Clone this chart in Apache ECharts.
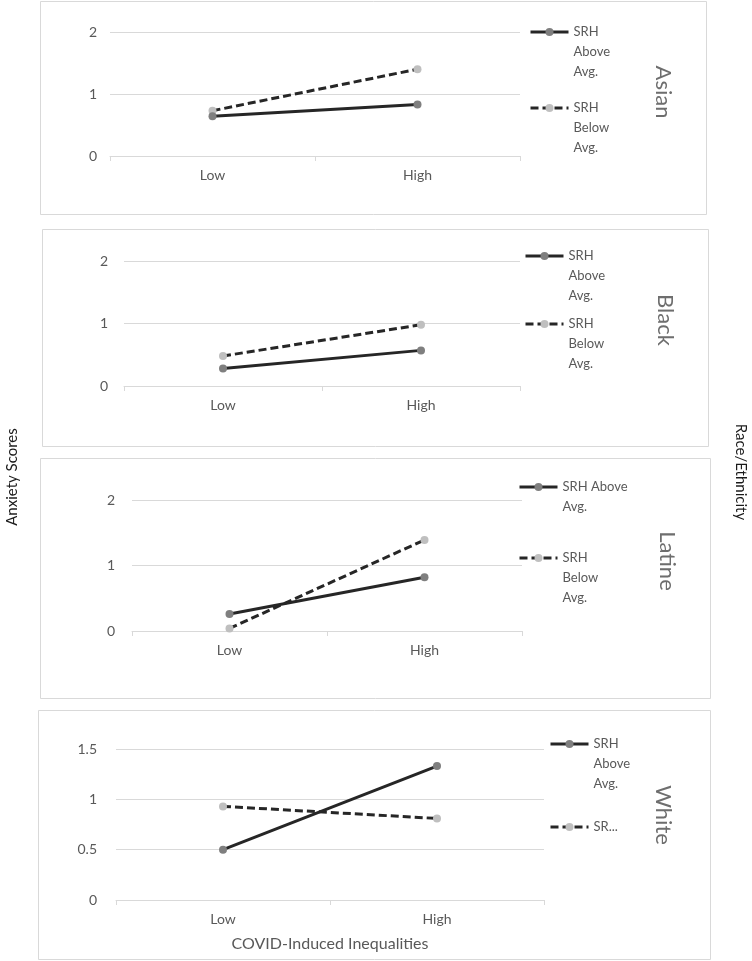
<!DOCTYPE html>
<html>
<head>
<meta charset="utf-8">
<script src="https://cdn.jsdelivr.net/npm/echarts@6/dist/echarts.min.js"></script>
<style>
  html, body { margin: 0; padding: 0; background: #ffffff; }
  #chart { width: 752px; height: 961px; }
</style>
</head>
<body>
<div id="chart"></div>
<script>
// ---- data ----
const categories = ['Low', 'High'];
const groups = ['Asian', 'Black', 'Latine', 'White'];
const seriesNames = ['SRH Above Avg.', 'SRH Below Avg.'];
const asianAbove = [0.64, 0.83];
const asianBelow = [0.73, 1.40];
const blackAbove = [0.28, 0.57];
const blackBelow = [0.48, 0.98];
const latineAbove = [0.26, 0.82];
const latineBelow = [0.04, 1.39];
const whiteAbove = [0.50, 1.33];
const whiteBelow = [0.93, 0.81];
const yMax = [2, 2, 2, 1.5];
const yInterval = [1, 1, 1, 0.5];
const xAxisTitle = 'COVID-Induced Inequalities';
const yAxisTitle = 'Anxiety Scores';
const groupTitle = 'Race/Ethnicity';

// ---- layout (style only) ----
const FONT = 'Lato, "Open Sans", sans-serif';
const panels = [
  { box: [40, 1, 666, 213], grid: { left: 110, top: 32, width: 410, height: 124 }, labelMargin: 13, label: [663, 92],
    legend: [ { left: 529, icon: 32, text: 'SRH\nAbove\nAvg.' }, { left: 529, icon: 108, text: 'SRH\nBelow\nAvg.' } ] },
  { box: [42, 229, 666, 217], grid: { left: 124, top: 261, width: 396, height: 125 }, labelMargin: 16, label: [665, 320],
    legend: [ { left: 524, icon: 256, text: 'SRH\nAbove\nAvg.' }, { left: 524, icon: 324, text: 'SRH\nBelow\nAvg.' } ] },
  { box: [40, 458, 670, 240], grid: { left: 132, top: 500, width: 390, height: 131 }, labelMargin: 17, label: [667, 561],
    legend: [ { left: 518, icon: 487, text: 'SRH Above\nAvg.' }, { left: 518, icon: 558, text: 'SRH\nBelow\nAvg.' } ] },
  { box: [38, 710, 672, 249], grid: { left: 116, top: 749, width: 428, height: 151 }, labelMargin: 19, label: [663, 815],
    legend: [ { left: 549, icon: 744, text: 'SRH\nAbove\nAvg.' }, { left: 549, icon: 827, text: 'SR...' } ] }
];
const dataAbove = [asianAbove, blackAbove, latineAbove, whiteAbove];
const dataBelow = [asianBelow, blackBelow, latineBelow, whiteBelow];

const LH = 20; // legend line height
const grids = [], xAxes = [], yAxes = [], series = [], legends = [], graphics = [];

panels.forEach((p, i) => {
  graphics.push({
    type: 'rect', shape: { x: p.box[0] + 0.5, y: p.box[1] + 0.5, width: p.box[2], height: p.box[3] },
    style: { fill: 'none', stroke: '#d9d9d9', lineWidth: 1 }, z: 0
  });
  graphics.push({
    type: 'text', x: p.label[0], y: p.label[1], rotation: -Math.PI / 2,
    style: { text: groups[i], font: '22px ' + FONT, fill: '#6e6e6e', align: 'center', verticalAlign: 'middle' }
  });
  grids.push(Object.assign({ containLabel: false }, p.grid));
  xAxes.push({
    type: 'category', gridIndex: i, data: categories, boundaryGap: true,
    axisLine: { show: true, lineStyle: { color: '#d9d9d9', width: 1 } },
    axisTick: { show: true, length: 5, lineStyle: { color: '#d9d9d9' } },
    axisLabel: { color: '#595959', fontSize: 14, fontFamily: FONT, margin: 12 },
    name: i === 3 ? xAxisTitle : '', nameLocation: 'middle', nameGap: 36,
    nameTextStyle: { color: '#595959', fontSize: 16, fontFamily: FONT }
  });
  yAxes.push({
    type: 'value', gridIndex: i, min: 0, max: yMax[i], interval: yInterval[i],
    axisLine: { show: false }, axisTick: { show: false },
    splitLine: { show: true, lineStyle: { color: '#d9d9d9', width: 1 } },
    axisLabel: { color: '#595959', fontSize: 14, fontFamily: FONT, margin: p.labelMargin }
  });
  series.push({
    name: seriesNames[0], type: 'line', xAxisIndex: i, yAxisIndex: i, data: dataAbove[i],
    symbol: 'circle', symbolSize: 8, z: 3,
    itemStyle: { color: '#7f7f7f' },
    lineStyle: { color: '#262626', width: 3, type: 'solid' },
    emphasis: { disabled: true }, animation: false
  });
  series.push({
    name: seriesNames[1], type: 'line', xAxisIndex: i, yAxisIndex: i, data: dataBelow[i],
    symbol: 'circle', symbolSize: 8, z: 2,
    itemStyle: { color: '#bfbfbf' },
    lineStyle: { color: '#262626', width: 3, type: [8, 4] },
    emphasis: { disabled: true }, animation: false
  });
  p.legend.forEach((lg, k) => {
    const n = lg.text.split('\n').length;
    const boxH = (2 * n - 1) * LH;
    // blank lines above keep the first text line level with the legend icon
    const shown = '\n'.repeat(n - 1) + lg.text;
    legends.push({
      data: [seriesNames[k]], left: lg.left, top: lg.icon - boxH / 2, padding: 0,
      orient: 'vertical', itemWidth: 38, itemHeight: 10, itemGap: 0, selectedMode: false,
      lineStyle: { width: 3 },
      formatter: () => shown,
      textStyle: { color: '#595959', fontSize: 13, fontFamily: FONT, lineHeight: LH }
    });
  });
});

graphics.push({
  type: 'text', x: 12, y: 477, rotation: Math.PI / 2,
  style: { text: yAxisTitle, font: '15px ' + FONT, fill: '#1a1a1a', align: 'center', verticalAlign: 'middle' }
});
graphics.push({
  type: 'text', x: 741, y: 472, rotation: -Math.PI / 2,
  style: { text: groupTitle, font: '15px ' + FONT, fill: '#1a1a1a', align: 'center', verticalAlign: 'middle' }
});

const chart = echarts.init(document.getElementById('chart'), null, { renderer: 'canvas' });
chart.setOption({
  backgroundColor: '#ffffff',
  animation: false,
  grid: grids, xAxis: xAxes, yAxis: yAxes, series: series, legend: legends,
  graphic: graphics
});
</script>
</body>
</html>
